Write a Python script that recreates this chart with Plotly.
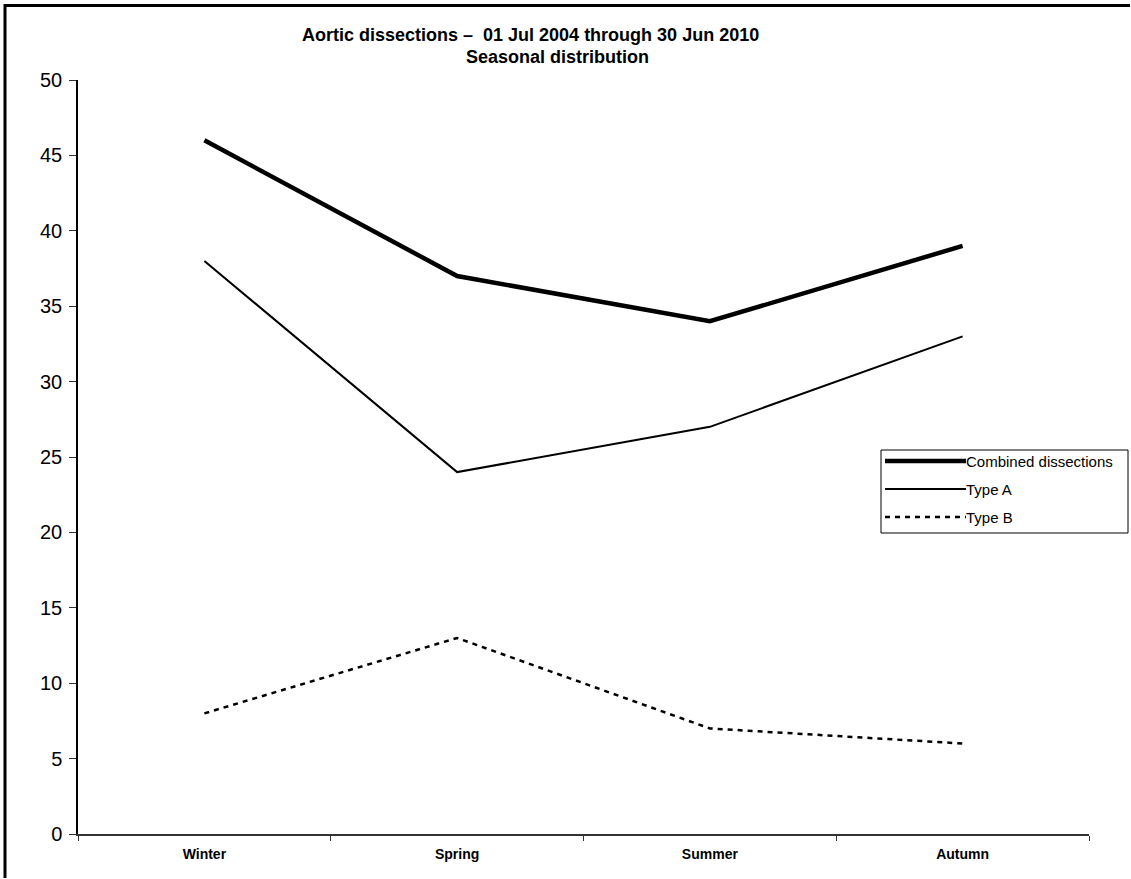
import plotly.graph_objects as go

# Seasonal counts of aortic dissections
seasons = ["Winter", "Spring", "Summer", "Autumn"]
combined = [46, 37, 34, 39]
type_a = [38, 24, 27, 33]
type_b = [8, 13, 7, 6]
y_ticks = [0, 5, 10, 15, 20, 25, 30, 35, 40, 45, 50]

W, H = 1131, 879
L, R, T, B = 78, 42, 80, 45
PW, PH = W - L - R, H - T - B
FONT = "Arial, Liberation Sans"


def px(x):
    return (x - L) / PW


def py(y):
    return (H - B - y) / PH


series = [
    ("Combined dissections", combined, dict(color="black", width=4.5)),
    ("Type A", type_a, dict(color="black", width=2)),
    ("Type B", type_b, dict(color="black", width=2.5, dash="5px,5px")),
]

fig = go.Figure()
for name, vals, line in series:
    fig.add_trace(go.Scatter(x=seasons, y=vals, mode="lines", name=name,
                             line=line, showlegend=False))

shapes = []
annotations = []

# Outer chart frame: one open path along the left and top edges
x_left, y_top = 5, 5.5
shapes.append(dict(type="path", xref="paper", yref="paper",
                   path="M %f,%f L %f,%f L %f,%f" % (px(x_left), py(H - 1),
                                                     px(x_left), py(y_top),
                                                     px(W - 1), py(y_top)),
                   line=dict(color="black", width=3)))

# Legend box with line samples
lg_x0, lg_x1, lg_y0, lg_y1 = 881, 1128, 450, 533
shapes.append(dict(type="rect", xref="paper", yref="paper",
                   x0=px(lg_x0), x1=px(lg_x1), y0=py(lg_y1), y1=py(lg_y0),
                   line=dict(color="black", width=1), fillcolor="white"))
for i, (name, vals, line) in enumerate(series):
    yy = 461 + 28 * i
    sl = dict(color="black", width=line["width"])
    if "dash" in line:
        sl["dash"] = line["dash"]
    shapes.append(dict(type="line", xref="paper", yref="paper",
                       x0=px(885), x1=px(966), y0=py(yy), y1=py(yy), line=sl))
    annotations.append(dict(text=name, xref="paper", yref="paper",
                            x=px(966), y=py(yy), xanchor="left", yanchor="middle",
                            showarrow=False, xshift=-2,
                            font=dict(family=FONT, size=15, color="black")))

# Title lines
annotations.append(dict(text="<b>Aortic dissections –  01 Jul 2004 through 30 Jun 2010</b>",
                        xref="paper", yref="paper", x=px(530), y=py(35),
                        xanchor="center", yanchor="middle", showarrow=False,
                        font=dict(family=FONT, size=18, color="black")))
annotations.append(dict(text="<b>Seasonal distribution</b>",
                        xref="paper", yref="paper", x=px(557), y=py(57),
                        xanchor="center", yanchor="middle", showarrow=False,
                        font=dict(family=FONT, size=18, color="black")))

fig.update_layout(
    width=W, height=H,
    margin=dict(l=L, r=R, t=T, b=B, pad=0),
    paper_bgcolor="white", plot_bgcolor="white",
    shapes=shapes, annotations=annotations,
    font=dict(family=FONT, color="black"),
    xaxis=dict(type="category", range=[-0.5, 3.5], tickson="boundaries",
               ticks="outside", ticklen=5, tickcolor="#333", tickwidth=1,
               showline=True, linecolor="#333", linewidth=1.5,
               showgrid=False, zeroline=False, ticklabelstandoff=6,
               tickfont=dict(family=FONT, size=14, color="black"),
               ticktext=["<b>%s</b>" % s for s in seasons], tickvals=seasons),
    yaxis=dict(range=[0, 50], tickvals=y_ticks, ticks="outside", ticklen=7,
               tickcolor="#333", tickwidth=1,
               showline=True, linecolor="black", linewidth=1.5,
               showgrid=False, zeroline=False, ticklabelstandoff=3,
               tickfont=dict(family=FONT, size=20, color="black")),
)

fig.write_html("out.html", config={"displayModeBar": False})
